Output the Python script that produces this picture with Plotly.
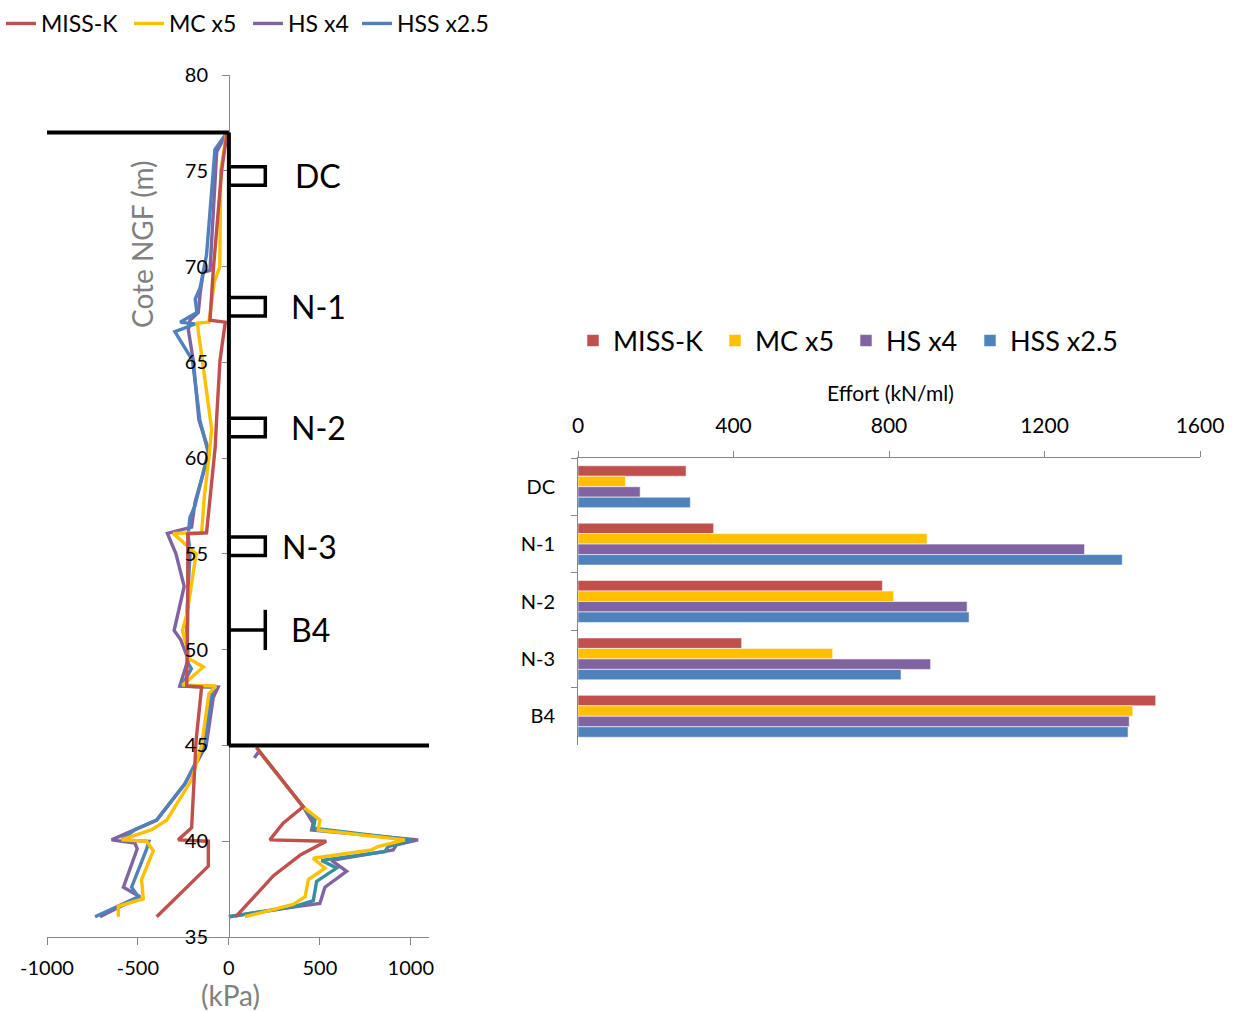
import plotly.graph_objects as go

W, H = 1236, 1012
FONT = "Lato"


def fx(p):
    return p / W


def fy(p):
    return 1 - p / H


series_names = ["MISS-K", "MC x5", "HS x4", "HSS x2.5"]
series_colors = ["#C0504D", "#FFC000", "#8064A2", "#4F81BD"]
hss_passive_color = "#378EA2"

# ---------------- Pressure profiles (kPa vs Cote NGF) ----------------
# active side (left of wall)
missk_act_elev = [77.0, 75.0, 69.8, 67.2, 67.1, 65.1, 62.0, 60.6, 56.1, 56.05, 52.0, 48.6, 48.1, 48.05, 45.3, 40.7, 40.07, 40.0, 38.7, 36.06]
missk_act_kpa = [-10, -40, -86, -104, -20, -49, -68, -75, -123, -226, -226, -232, -232, -150, -180, -205, -279, -113, -113, -397]

mc_act_elev = [77.0, 75.0, 70.0, 69.2, 67.5, 67.1, 67.05, 66.6, 63.5, 61.5, 60.0, 58.0, 56.1, 56.07, 55.0, 51.9, 51.0, 49.5, 49.1, 48.15, 48.1, 47.7, 45.0, 43.2, 41.1, 40.6, 40.07, 40.0, 39.5, 38.0, 37.0, 36.6, 36.06]
mc_act_kpa = [-12, -45, -50, -80, -104, -110, -172, -168, -123, -95, -110, -135, -150, -306, -180, -230, -255, -215, -140, -255, -72, -110, -150, -205, -342, -425, -590, -452, -416, -480, -471, -608, -608]

hs_act_elev = [77.0, 76.0, 69.8, 69.7, 68.6, 67.6, 67.2, 66.7, 65.1, 62.0, 60.3, 57.7, 56.4, 56.07, 55.0, 53.3, 51.0, 50.5, 49.5, 48.1, 48.05, 47.5, 45.0, 43.0, 41.1, 40.6, 40.07, 39.9, 39.6, 37.6, 37.1, 36.06]
hs_act_kpa = [-10, -67, -104, -141, -158, -168, -214, -223, -196, -165, -108, -186, -205, -338, -291, -246, -301, -264, -224, -270, -59, -86, -125, -242, -397, -517, -645, -517, -504, -580, -489, -709]

hss_act_elev = [77.0, 76.1, 75.0, 70.6, 68.9, 68.3, 67.6, 67.1, 67.0, 66.6, 65.1, 62.0, 60.3, 57.5, 56.9, 56.0, 55.0, 51.5, 49.3, 49.0, 48.1, 48.05, 47.7, 45.0, 43.0, 41.1, 40.6, 40.07, 40.0, 39.6, 37.6, 37.1, 36.06]
hss_act_kpa = [-10, -77, -86, -123, -158, -185, -176, -268, -185, -297, -200, -160, -114, -187, -214, -224, -214, -233, -224, -206, -260, -77, -95, -135, -242, -397, -517, -590, -440, -452, -535, -498, -736]

# passive side (right of wall, below excavation)
missk_pas_elev = [44.9, 41.8, 40.94, 40.07, 40.0, 39.3, 38.2, 36.8, 36.06]
missk_pas_kpa = [151, 408, 298, 225, 535, 395, 245, 106, 38]

mc_pas_elev = [44.76, 41.8, 41.11, 40.59, 40.07, 39.72, 39.55, 39.11, 38.6, 38.0, 37.1, 36.7, 36.06]
mc_pas_kpa = [161, 408, 500, 491, 967, 820, 784, 463, 528, 437, 419, 353, 88]

hs_pas_elev = [44.35, 44.7, 41.8, 40.94, 40.59, 40.07, 39.81, 39.55, 39.0, 38.43, 37.6, 36.75, 36.6, 36.06]
hs_pas_kpa = [140, 165, 408, 463, 455, 1040, 921, 903, 564, 647, 528, 500, 380, 0]

hss_pas_elev = [44.76, 41.8, 41.11, 40.68, 40.07, 39.72, 39.46, 39.0, 38.6, 37.9, 36.9, 36.6, 36.06]
hss_pas_kpa = [161, 408, 473, 464, 1004, 875, 857, 509, 592, 482, 464, 363, 0]

# axis ticks
kpa_ticks = [-1000, -500, 0, 500, 1000]
kpa_ticktext = ["-1000", "-500", "0", "500", "1000"]

# wall geometry and anchors
wall_top = 77.0
excavation_level = 45.0
anchor_labels = ["DC", "N-1", "N-2", "N-3", "B4"]
anchor_levels = [74.73, 67.9, 61.6, 55.4, 51.03]

# ---------------- Anchor forces (bar chart) ----------------
effort_missk = [278, 349, 783, 421, 1486]
effort_mc = [122, 898, 812, 655, 1427]
effort_hs = [160, 1303, 1001, 907, 1418]
effort_hss = [289, 1400, 1006, 831, 1415]

fig = go.Figure()

profiles = {
    "MISS-K": (missk_act_kpa, missk_act_elev, missk_pas_kpa, missk_pas_elev),
    "MC x5": (mc_act_kpa, mc_act_elev, mc_pas_kpa, mc_pas_elev),
    "HS x4": (hs_act_kpa, hs_act_elev, hs_pas_kpa, hs_pas_elev),
    "HSS x2.5": (hss_act_kpa, hss_act_elev, hss_pas_kpa, hss_pas_elev),
}
color_of = dict(zip(series_names, series_colors))

# one legend per entry so each entry sits where the reference puts it
line_legend_ids = ["legend", "legend3", "legend4", "legend5"]
line_legend_px = [1, 129, 248, 357]
bar_legend_ids = ["legend2", "legend6", "legend7", "legend8"]
bar_legend_px = [573, 715, 846, 970]
line_legend_of = dict(zip(series_names, line_legend_ids))

LW = 3.4
draw_order = ["HS x4", "HSS x2.5", "MC x5", "MISS-K"]
for name in draw_order:
    ax, ay, px_, py_ = profiles[name]
    if name == "HSS x2.5":
        fig.add_trace(go.Scatter(
            x=px_, y=py_, mode="lines", line=dict(color=hss_passive_color, width=LW),
            showlegend=False, legendgroup=name, xaxis="x", yaxis="y", hoverinfo="skip"))
        xs, ys = ax, ay
    else:
        xs = ax + [None] + px_
        ys = ay + [None] + py_
    fig.add_trace(go.Scatter(
        x=xs, y=ys, mode="lines", name=name, legendgroup=name,
        line=dict(color=color_of[name], width=LW), connectgaps=False,
        xaxis="x", yaxis="y", legend=line_legend_of[name]))

efforts = [effort_missk, effort_mc, effort_hs, effort_hss]
for name, col, vals, lid in zip(series_names, series_colors, efforts, bar_legend_ids):
    fig.add_trace(go.Bar(
        x=vals, y=anchor_labels, orientation="h", name=name,
        marker=dict(color=col, line=dict(color="rgba(255,255,255,0.7)", width=0.8)),
        xaxis="x2", yaxis="y2", legend=lid))

# wall shapes
black = dict(color="black", width=4)
shapes = [
    dict(type="line", xref="x", yref="y", x0=-1000, x1=0, y0=wall_top, y1=wall_top, line=black),
    dict(type="line", xref="x", yref="y", x0=0, x1=0, y0=wall_top, y1=excavation_level, line=black),
    dict(type="line", xref="x", yref="y", x0=0, x1=1100, y0=excavation_level, y1=excavation_level, line=black),
]
annotations = []
anchor_w = 200
for lab, lev in zip(anchor_labels, anchor_levels):
    if lab == "B4":
        shapes.append(dict(type="line", xref="x", yref="y", x0=0, x1=anchor_w, y0=lev, y1=lev,
                           line=dict(color="black", width=3.5)))
        shapes.append(dict(type="line", xref="x", yref="y", x0=anchor_w, x1=anchor_w, y0=lev - 1.05, y1=lev + 1.05,
                           line=dict(color="black", width=3.5)))
        tx = 330
    else:
        shapes.append(dict(type="rect", xref="x", yref="y", x0=0, x1=anchor_w, y0=lev - 0.48, y1=lev + 0.48,
                           line=dict(color="black", width=3.5)))
        tx = 280 if lab == "N-3" else (350 if lab == "DC" else 330)
    annotations.append(dict(x=tx, y=lev, xref="x", yref="y", text=lab, showarrow=False,
                            xanchor="left", yanchor="middle", font=dict(family=FONT, size=32, color="black")))

annotations.append(dict(x=fx(142), y=fy(245), xref="paper", yref="paper", text="Cote NGF (m)",
                        xanchor="center", yanchor="middle",
                        textangle=-90, showarrow=False, font=dict(family=FONT, size=28, color="#808080")))
annotations.append(dict(x=fx(230), y=fy(995), xref="paper", yref="paper", text="(kPa)",
                        xanchor="center", yanchor="middle",
                        showarrow=False, font=dict(family=FONT, size=28, color="#808080")))
annotations.append(dict(x=fx(890), y=fy(392), xref="paper", yref="paper", text="Effort (kN/ml)",
                        xanchor="center", yanchor="middle",
                        showarrow=False, font=dict(family=FONT, size=21, color="black")))

axis_gray = "#868686"
legends = {}
for lid, xpx in zip(line_legend_ids, line_legend_px):
    legends[lid] = dict(orientation="h", xref="container", yref="container", x=fx(xpx), y=fy(2),
                        xanchor="left", yanchor="top",
                        font=dict(family=FONT, size=23, color="black"), bgcolor="rgba(0,0,0,0)")
for lid, xpx in zip(bar_legend_ids, bar_legend_px):
    legends[lid] = dict(orientation="h", xref="container", yref="container", x=fx(xpx), y=fy(341),
                        xanchor="left", yanchor="middle",
                        font=dict(family=FONT, size=27, color="black"), bgcolor="rgba(0,0,0,0)")

fig.update_layout(
    width=W, height=H,
    margin=dict(l=0, r=0, t=0, b=0, autoexpand=False),
    paper_bgcolor="white", plot_bgcolor="white",
    font=dict(family=FONT, color="black"),
    barmode="group", bargap=0.27, bargroupgap=0,
    shapes=shapes, annotations=annotations,
    xaxis=dict(domain=[fx(47), fx(429)], range=[-1000, 1100], tickvals=kpa_ticks, ticktext=kpa_ticktext,
               showgrid=False, zeroline=False, showline=True, linecolor=axis_gray, linewidth=1,
               ticks="outside", ticklen=7, tickcolor=axis_gray, anchor="y", automargin=False,
               ticklabelstandoff=6,
               tickfont=dict(family=FONT, size=20, color="black")),
    yaxis=dict(domain=[fy(937), fy(75)], range=[35, 80], dtick=5, tick0=35,
               showgrid=False, zeroline=False, showline=True, linecolor=axis_gray, linewidth=1,
               ticks="outside", ticklen=7, tickcolor=axis_gray, anchor="free", position=fx(229),
               ticklabelstandoff=10,
               automargin=False, tickfont=dict(family=FONT, size=20, color="black")),
    xaxis2=dict(domain=[fx(578), fx(1200)], range=[0, 1600], dtick=400, side="top", anchor="y2",
                showgrid=False, zeroline=False, showline=True, linecolor=axis_gray, linewidth=1,
                ticks="outside", ticklen=6, tickcolor=axis_gray, automargin=False,
                ticklabelstandoff=10,
                tickfont=dict(family=FONT, size=21, color="black")),
    yaxis2=dict(domain=[fy(745), fy(458)], anchor="x2", autorange="reversed", type="category",
                showgrid=False, zeroline=False, showline=True, linecolor=axis_gray, linewidth=1,
                ticks="outside", ticklen=6, tickcolor=axis_gray, tickson="boundaries",
                ticklabelstandoff=18, automargin=False,
                tickfont=dict(family=FONT, size=20, color="black")),
    **legends,
)

fig.write_html("out.html", config={"displayModeBar": False},
               post_script="document.body.style.margin='0';document.body.style.padding='0';")
